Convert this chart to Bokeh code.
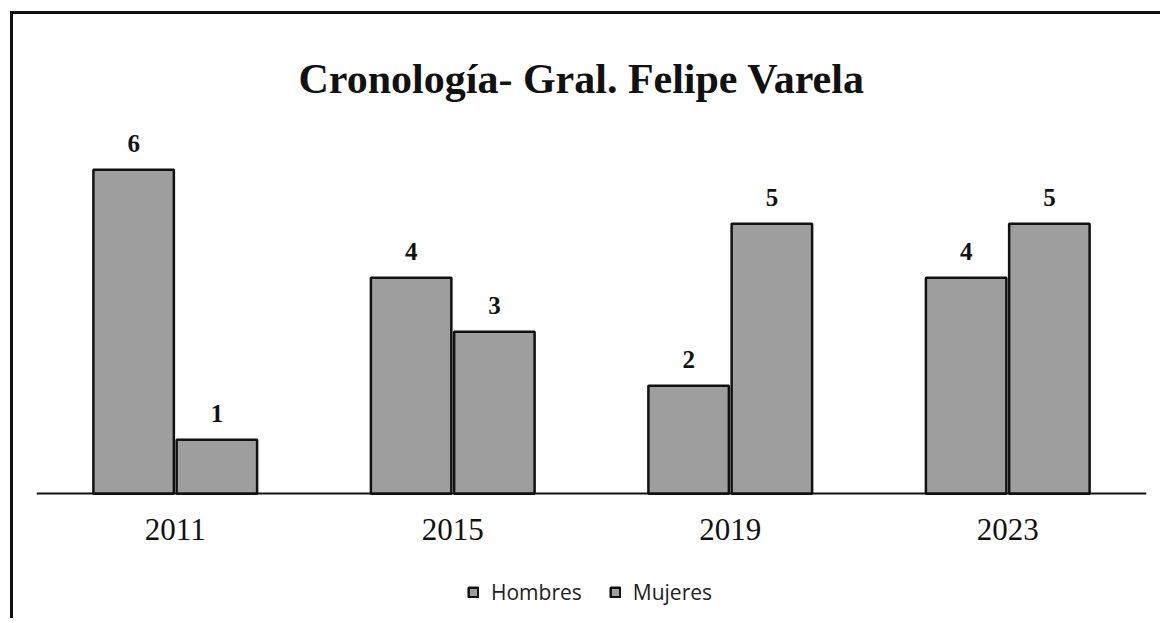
from bokeh.plotting import figure
from bokeh.models import ColumnDataSource, FactorRange, Range1d, Legend, LegendItem
from bokeh.transform import dodge
from bokeh.core.properties import value
from bokeh.embed import file_html
from bokeh.resources import INLINE

# ---- data ----
years = ["2011", "2015", "2019", "2023"]
hombres = [6, 4, 2, 4]
mujeres = [1, 3, 5, 5]
series_names = ["Hombres", "Mujeres"]
title_text = "Cronología- Gral. Felipe Varela"

src = ColumnDataSource(dict(
    year=years,
    h=hombres,
    m=mujeres,
    hl=[str(v) for v in hombres],
    ml=[str(v) for v in mujeres],
))

p = figure(
    x_range=FactorRange(*years, range_padding=0),
    y_range=Range1d(-2.216, 6.91),
    width=1150, height=607,
    output_backend="svg", toolbar_location=None,
    min_border_left=23, min_border_right=17,
    min_border_top=106, min_border_bottom=8,
)
p.styles = {"margin-left": "10px", "margin-top": "11px",
            "border-top": "3px solid #111", "border-left": "3px solid #111",
            "box-sizing": "border-box"}

bar_fill = "#9e9e9e"
r1 = p.vbar(x=dodge("year", -0.15, range=p.x_range), top="h", width=0.29, source=src,
            fill_color=bar_fill, line_color="#111111", line_width=2.5)
r2 = p.vbar(x=dodge("year", 0.15, range=p.x_range), top="m", width=0.29, source=src,
            fill_color=bar_fill, line_color="#111111", line_width=2.5)

for col, lab, off in (("h", "hl", -0.15), ("m", "ml", 0.15)):
    p.text(x=dodge("year", off, range=p.x_range), y=col, text=lab, source=src,
           text_align="center", text_baseline="alphabetic", y_offset=-26,
           text_font=value("Liberation Serif"), text_font_style="bold",
           text_font_size="25px", text_color="#111111")

p.title.text = title_text
p.title.align = "left"
p.title.offset = 262
p.title.text_font = "Liberation Serif"
p.title.text_font_style = "bold"
p.title.text_font_size = "42px"
p.title.text_color = "#111111"
p.title.standoff = 38

p.yaxis.visible = False
p.xgrid.grid_line_color = None
p.ygrid.grid_line_color = None
p.outline_line_color = None
p.xaxis.fixed_location = 0
p.xaxis.axis_line_color = "#111111"
p.xaxis.axis_line_width = 2
p.xaxis.major_tick_line_color = None
p.xaxis.minor_tick_line_color = None
p.xaxis.major_label_text_font = "Liberation Serif"
p.xaxis.major_label_text_font_size = "31px"
p.xaxis.major_label_text_color = "#111111"
p.xaxis.major_label_standoff = 19

legend = Legend(
    items=[LegendItem(label=series_names[0], renderers=[r1]),
           LegendItem(label=series_names[1], renderers=[r2])],
    orientation="horizontal", location=(431, 7),
    border_line_alpha=0, background_fill_alpha=0,
    label_text_font="Open Sans", label_text_font_size="21px", label_text_color="#222222",
    label_standoff=12,
    glyph_width=12, glyph_height=12, spacing=27, margin=0, padding=0,
)
p.add_layout(legend, "center")

open("out.html", "w").write(file_html(p, INLINE))
